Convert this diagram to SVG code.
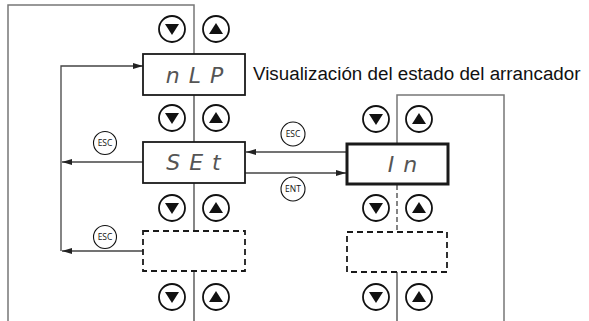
<svg xmlns="http://www.w3.org/2000/svg" width="589" height="321" viewBox="0 0 589 321">
<style>
.ln{fill:none;stroke:#444;stroke-width:1.3}
.out{fill:none;stroke:#777;stroke-width:1.5}
.box{fill:#fff;stroke:#1a1a1a;stroke-width:1.8}
.boxb{fill:#fff;stroke:#1a1a1a;stroke-width:3}
.dbox{fill:#fff;stroke:#1a1a1a;stroke-width:1.8;stroke-dasharray:6 4}
.btn{fill:#fff;stroke:#111;stroke-width:1.8}
.tri{fill:#111}
.key{fill:#fff;stroke:#111;stroke-width:1.1}
.kt{font-family:"Open Sans","Liberation Sans",sans-serif;font-size:8.5px;fill:#111;text-anchor:middle}
.seg{font-family:"DejaVu Sans","Liberation Sans",sans-serif;font-style:oblique;font-size:22px;fill:#555;text-anchor:middle;letter-spacing:9px}
.lbl{font-family:"Liberation Sans",Arial,sans-serif;font-size:18.8px;fill:#111}
</style>
<defs>
<marker id="ah" viewBox="0 0 10 6" refX="10" refY="3" markerWidth="10" markerHeight="6" markerUnits="userSpaceOnUse" orient="auto">
<path d="M0,0 L10,3 L0,6 Z" fill="#222"/>
</marker>
<g id="bdown"><circle r="13" class="btn"/><path d="M-7,-5 L7,-5 L0,6 Z" class="tri"/></g>
<g id="bup"><circle r="13" class="btn"/><path d="M-7,5 L7,5 L0,-6 Z" class="tri"/></g>
</defs>
<g id="connectors">
<polyline class="out" points="194,54 194,5 8,5 8,321"/>
<line class="ln" x1="194" y1="95" x2="194" y2="142"/>
<line class="ln" x1="194" y1="183" x2="194" y2="231"/>
<line class="ln" x1="194" y1="271" x2="194" y2="321"/>
<polyline class="ln" points="61,251 61,66 143,66" marker-end="url(#ah)"/>
<line class="ln" x1="143" y1="162" x2="62" y2="162" marker-end="url(#ah)"/>
<line class="ln" x1="143" y1="251" x2="62" y2="251" marker-end="url(#ah)"/>
<line class="ln" x1="347" y1="152" x2="246" y2="152" marker-end="url(#ah)"/>
<line class="ln" x1="245" y1="173" x2="346" y2="173" marker-end="url(#ah)"/>
<polyline class="out" points="504,321 504,95 397,95 397,143"/>
<line class="ln" x1="397" y1="185" x2="397" y2="231" stroke-dasharray="5 3"/>
<line class="ln" x1="397" y1="272" x2="397" y2="321"/>
</g>
<g id="node-nLP"><rect class="box" x="143" y="54" width="102" height="41"/><text class="seg" x="199" y="83">nLP</text></g>
<g id="node-SEt"><rect class="box" x="143" y="142" width="102" height="41"/><text class="seg" x="198" y="170">SEt</text></g>
<g id="node-empty1"><rect class="dbox" x="143" y="231" width="102" height="40"/></g>
<g id="node-In"><rect class="boxb" x="347" y="144" width="101" height="40"/><text class="seg" x="407" y="172">In</text></g>
<g id="node-empty2"><rect class="dbox" x="347" y="232" width="100" height="40"/></g>
<g id="label"><text class="lbl" x="253" y="80">Visualización del estado del arrancador</text></g>
<g id="buttons">
<use href="#bdown" x="172" y="29"/><use href="#bup" x="216" y="29"/>
<use href="#bdown" x="172" y="118"/><use href="#bup" x="216" y="118"/>
<use href="#bdown" x="172" y="208"/><use href="#bup" x="216" y="208"/>
<use href="#bdown" x="172" y="297"/><use href="#bup" x="216" y="297"/>
<use href="#bdown" x="376" y="119"/><use href="#bup" x="419" y="119"/>
<use href="#bdown" x="376" y="208"/><use href="#bup" x="419" y="208"/>
<use href="#bdown" x="376" y="297"/><use href="#bup" x="419" y="297"/>
</g>
<g id="keys">
<circle class="key" cx="293" cy="134" r="12"/><text class="kt" x="293" y="137">ESC</text>
<circle class="key" cx="293" cy="189" r="12"/><text class="kt" x="293" y="192">ENT</text>
<circle class="key" cx="105" cy="143" r="11.5"/><text class="kt" x="105" y="146">ESC</text>
<circle class="key" cx="105" cy="237" r="11.5"/><text class="kt" x="105" y="240">ESC</text>
</g>
</svg>
